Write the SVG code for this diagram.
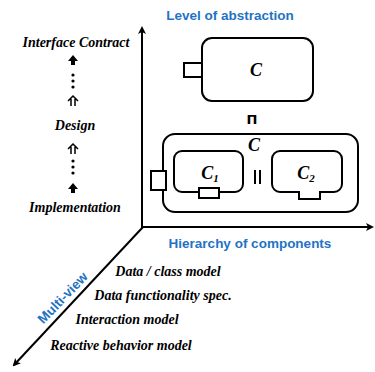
<svg xmlns="http://www.w3.org/2000/svg" width="375" height="372" viewBox="0 0 375 372">
<style>
.lbl{font-family:'Liberation Serif','Times New Roman',serif;font-style:italic;font-weight:bold;font-size:14px;fill:#000;text-anchor:middle}
.ax{font-family:'Liberation Sans',Arial,sans-serif;font-weight:bold;font-size:13.5px;fill:#1f73c4;text-anchor:middle}
.box{fill:none;stroke:#000;stroke-width:2}
.port{fill:#fff;stroke:#000;stroke-width:2}
.cl{font-family:'Liberation Serif','Times New Roman',serif;font-style:italic;font-weight:bold;font-size:18px;fill:#000;text-anchor:middle}
.op{font-family:'DejaVu Sans',sans-serif;font-size:13px;fill:#000;text-anchor:middle}
.axis{stroke:#000;stroke-width:2;fill:none}
.dbl{fill:none;stroke:#000;stroke-width:1.5}
</style>
<defs>
<marker id="ah" markerWidth="8" markerHeight="8" refX="6" refY="4" orient="auto" markerUnits="userSpaceOnUse">
<path d="M0,0 L8,4 L0,8 L2,4 Z" fill="#000"/>
</marker>
<path id="heavy" d="M0,-5 L5,1 L2,1 L2,5 L-2,5 L-2,1 L-5,1 Z" fill="#000"/>
<path id="dbl" class="dbl" d="M-2,-2 V5 M2,-2 V5 M-5,0 L0,-5 L5,0"/>
<g id="dots" fill="#000"><circle cx="0" cy="-6" r="1.6"/><circle cx="0" cy="0" r="1.6"/><circle cx="0" cy="6" r="1.6"/></g>
</defs>
<g id="connectors">
<line class="axis" x1="142" y1="228" x2="142" y2="28" marker-end="url(#ah)"/>
<line class="axis" x1="142" y1="227" x2="372" y2="227" marker-end="url(#ah)"/>
<line class="axis" x1="143" y1="227" x2="14" y2="365" marker-end="url(#ah)"/>
</g>
<g id="axis-labels">
<text class="ax" x="230" y="20">Level of abstraction</text>
<text class="ax" x="250" y="248">Hierarchy of components</text>
<text class="ax" font-size="15" transform="translate(66,301) rotate(-46)">Multi-view</text>
</g>
<g id="abstraction-levels">
<text class="lbl" x="76" y="47">Interface Contract</text>
<use href="#heavy" x="73" y="60"/>
<use href="#dots" x="73" y="81"/>
<use href="#dbl" x="73" y="101"/>
<text class="lbl" x="75" y="130">Design</text>
<use href="#dbl" x="73" y="149"/>
<use href="#dots" x="73" y="167"/>
<use href="#heavy" x="73" y="188"/>
<text class="lbl" x="75" y="212">Implementation</text>
</g>
<g id="views">
<text class="lbl" x="168" y="276">Data / class model</text>
<text class="lbl" x="163" y="300">Data functionality spec.</text>
<text class="lbl" x="127" y="324">Interaction model</text>
<text class="lbl" x="121" y="350">Reactive behavior model</text>
</g>
<g id="node-c-top">
<rect class="box" x="202" y="38" width="111" height="63" rx="10"/>
<rect class="port" x="184" y="63" width="18" height="14"/>
<text class="cl" x="256" y="76">C</text>
</g>
<text class="op" x="252" y="124" font-weight="bold">Π</text>
<g id="node-c-composite">
<rect class="box" x="163" y="134" width="195" height="78" rx="12"/>
<rect class="port" x="151" y="171" width="15" height="19"/>
<text class="cl" x="254" y="151">C</text>
</g>
<g id="node-c1">
<rect class="box" x="174" y="151" width="69" height="41" rx="8"/>
<rect class="port" x="199" y="188" width="20" height="10"/>
<text class="cl" x="210" y="179">C<tspan font-size="11" dy="3">1</tspan></text>
</g>
<g stroke="#000" stroke-width="2"><line x1="255" y1="170" x2="255" y2="184"/><line x1="260" y1="170" x2="260" y2="184"/></g>
<g id="node-c2">
<path class="box" d="M280,151 H334 A8,8 0 0 1 342,159 V184 A8,8 0 0 1 334,192 H320 V199 H299 V192 H280 A8,8 0 0 1 272,184 V159 A8,8 0 0 1 280,151 Z"/>
<text class="cl" x="306" y="179">C<tspan font-size="11" dy="3">2</tspan></text>
</g>
</svg>
